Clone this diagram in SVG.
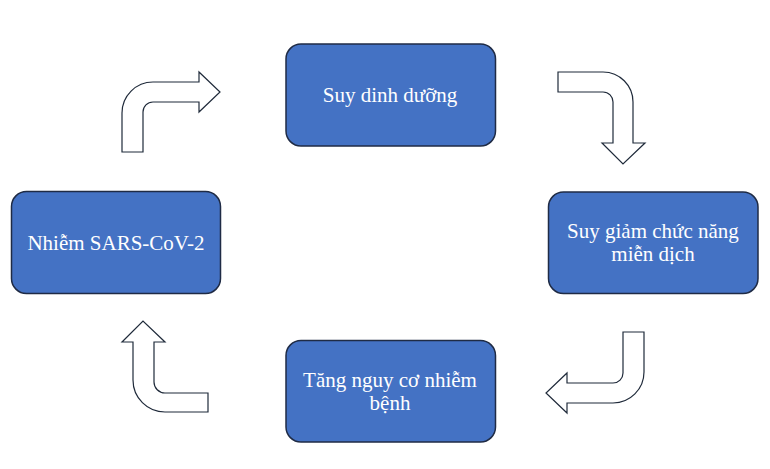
<svg xmlns="http://www.w3.org/2000/svg" width="770" height="469" viewBox="0 0 770 469">
<style>
.box{fill:#4472C4;stroke:#1f2b45;stroke-width:1.5}
.lbl{font-family:"Liberation Serif","Times New Roman",serif;font-size:21px;fill:#ffffff;text-anchor:middle}
.arr{fill:#ffffff;stroke:#1f2a3a;stroke-width:1.2;stroke-linejoin:miter}
</style>
<rect width="770" height="469" fill="#ffffff"/>
<g id="connectors">
<path class="arr" d="M122,152 L122,113 A31,31 0 0 1 153,82 L199,82 L199,72 L220,92 L199,112 L199,102 L153,102 A10,10 0 0 0 143,112 L143,152 Z"/>
<path class="arr" d="M558,72 L603,72 A30,30 0 0 1 633,102 L633,143 L645,143 L623,164 L602,143 L613,143 L613,102 A10,10 0 0 0 603,92 L558,92 Z"/>
<path class="arr" d="M623,332 L644,332 L644,372 A31,31 0 0 1 613,403 L567,403 L567,413 L546,393 L567,373 L567,383 L613,383 A10,10 0 0 0 623,373 Z"/>
<path class="arr" d="M208,393 L165,393 A11,11 0 0 1 154,382 L154,342 L165,342 L143,321 L122,342 L133,342 L133,380 A32,32 0 0 0 165,412 L208,412 Z"/>
</g>
<g id="node-suy-dinh-duong">
<rect class="box" x="286" y="44" width="209.5" height="102" rx="15"/>
<text class="lbl" x="390" y="102">Suy dinh dưỡng</text>
</g>
<g id="node-suy-giam">
<rect class="box" x="548.5" y="192" width="209.5" height="101.5" rx="15"/>
<text class="lbl" x="653" y="238">Suy giảm chức năng</text>
<text class="lbl" x="653" y="261">miễn dịch</text>
</g>
<g id="node-tang-nguy-co">
<rect class="box" x="286" y="340.5" width="209.5" height="101.5" rx="15"/>
<text class="lbl" x="390" y="387">Tăng nguy cơ nhiễm</text>
<text class="lbl" x="390" y="410">bệnh</text>
</g>
<g id="node-nhiem-sars">
<rect class="box" x="11.5" y="191.5" width="209" height="102" rx="15"/>
<text class="lbl" x="116" y="250">Nhiễm SARS-CoV-2</text>
</g>
</svg>
